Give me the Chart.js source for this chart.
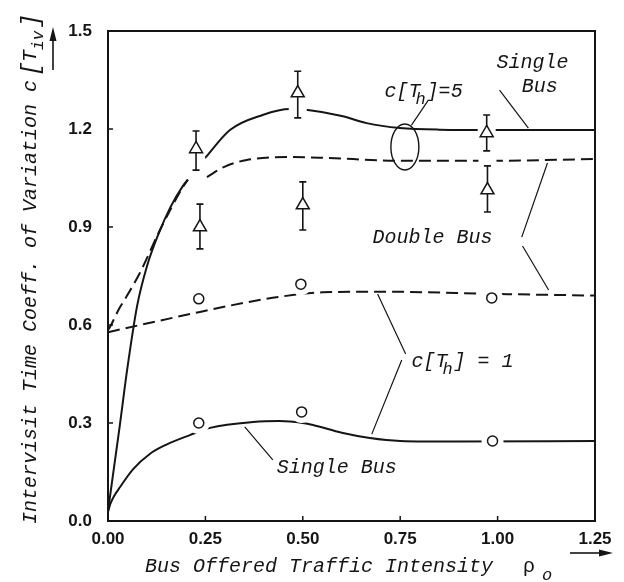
<!DOCTYPE html>
<html><head><meta charset="utf-8">
<script src="https://cdn.jsdelivr.net/npm/chart.js@4/dist/chart.umd.min.js"></script>
<style>html,body{margin:0;padding:0;background:#fff;}canvas{display:block;}</style>
</head><body>
<canvas id="c" width="624" height="582"></canvas>
<script>
// ---- tick values ----
const xTicks = [0, 0.25, 0.5, 0.75, 1.0, 1.25];
const yTicks = [0, 0.3, 0.6, 0.9, 1.2, 1.5];

// ---- analytic curves ----
const single5Rho = [0,0.015,0.03,0.05,0.075,0.1,0.13,0.16,0.192,0.205,0.22,0.249,0.313,0.397,0.467,0.513,0.6,0.664,0.749,0.85,1.0,1.25];
const single5Val = [0.03,0.16,0.29,0.47,0.66,0.78,0.88,0.96,1.025,1.045,null,1.111,1.197,1.243,1.261,1.258,1.24,1.218,1.203,1.198,1.197,1.197];

const double5Rho = [0,0.008,0.018,0.031,0.044,0.082,0.133,0.192,0.205,0.23,0.254,0.3,0.356,0.467,0.55,0.75,1.0,1.25];
const double5Val = [0.585,0.6,0.625,0.655,0.68,0.76,0.89,1.022,1.045,null,1.053,1.085,1.105,1.114,1.112,1.103,1.103,1.108];

const single1Rho = [0,0.006,0.015,0.031,0.064,0.108,0.15,0.21,0.262,0.372,0.44,0.5,0.526,0.6,0.672,0.75,0.9,1.25];
const single1Val = [0.028,0.052,0.075,0.104,0.158,0.206,0.234,0.263,0.285,0.303,0.306,0.3,0.294,0.27,0.254,0.245,0.243,0.245];

const double1Rho = [0,0.12,0.236,0.35,0.45,0.55,0.7,1.0,1.25];
const double1Val = [0.578,0.61,0.64,0.668,0.688,0.7,0.702,0.695,0.69];

// ---- simulation results (c[Th]=1, circles) ----
const simS1Rho = [0.233,0.497,0.987];
const simS1Val = [0.30,0.334,0.245];
const simD1Rho = [0.233,0.495,0.985];
const simD1Val = [0.68,0.725,0.683];

// ---- simulation results (c[Th]=5, triangles with confidence intervals) ----
const simS5Rho = [0.226,0.487,0.972];
const simS5Val = [1.139,1.31,1.188];
const simS5Lo  = [1.074,1.234,1.133];
const simS5Hi  = [1.194,1.377,1.243];
const simD5Rho = [0.236,0.5,0.974];
const simD5Val = [0.90,0.967,1.013];
const simD5Lo  = [0.833,0.891,0.946];
const simD5Hi  = [0.97,1.038,1.087];

const pts = (xs, ys) => xs.map((x, i) => ({x, y: ys[i]}));

const INK = '#151515';
const MONO = '"Liberation Mono", "DejaVu Sans Mono", monospace';

const markerBase = {showLine:false, pointBackgroundColor:'#fff', pointBorderColor:INK, pointBorderWidth:1.5, pointHoverRadius:0};
const curveBase = {pointRadius:0, pointHoverRadius:0, borderColor:INK, borderWidth:2, cubicInterpolationMode:'monotone', spanGaps:false, fill:false};

const datasets = [
  {...markerBase, label:'sim single c5', data:pts(simS5Rho, simS5Val), pointStyle:'triangle', pointRadius:7.5},
  {...markerBase, label:'sim double c5', data:pts(simD5Rho, simD5Val), pointStyle:'triangle', pointRadius:7.5},
  {...markerBase, label:'sim single c1', data:pts(simS1Rho, simS1Val), pointStyle:'circle', pointRadius:5},
  {...markerBase, label:'sim double c1', data:pts(simD1Rho, simD1Val), pointStyle:'circle', pointRadius:5},
  {...curveBase, label:'Single Bus c5', data:pts(single5Rho, single5Val)},
  {...curveBase, label:'Double Bus c5', data:pts(double5Rho, double5Val), borderDash:[12,6]},
  {...curveBase, label:'Single Bus c1', data:pts(single1Rho, single1Val)},
  {...curveBase, label:'Double Bus c1', data:pts(double1Rho, double1Val), borderDash:[12,6]}
];

const barGroups = [
  {rho:simS5Rho, lo:simS5Lo, hi:simS5Hi},
  {rho:simD5Rho, lo:simD5Lo, hi:simD5Hi}
];
const circleGroups = [
  {rho:simS1Rho, val:simS1Val},
  {rho:simD1Rho, val:simD1Val}
];

// annotation placement in data units
const labels = [
  {text:'Single', at:[0.997,1.387]},
  {text:'Bus', at:[1.062,1.313]},
  {text:'Double Bus', at:[0.679,0.851]},
  {text:'Single Bus', at:[0.433,0.147]}
];
const subLabels = [
  {pre:'c[T', sub:'h', post:']=5', at:[0.71,1.298]},
  {pre:'c[T', sub:'h', post:'] = 1', at:[0.779,0.471]}
];
const leaders = [
  [[1.005,1.319],[1.079,1.203]],
  [[0.821,1.286],[0.779,1.212]],
  [[1.062,0.869],[1.128,1.096]],
  [[1.064,0.842],[1.131,0.707]],
  [[0.764,0.511],[0.692,0.695]],
  [[0.754,0.493],[0.677,0.266]],
  [[0.351,0.288],[0.423,0.187]]
];
const ellipseAt = [0.762,1.145];

function drawHalosAndBars(chart){
  const {ctx, scales:{x, y}} = chart;
  ctx.save();
  ctx.fillStyle = '#fff';
  circleGroups.forEach(g => g.rho.forEach((r, i) => {
    ctx.beginPath();
    ctx.arc(x.getPixelForValue(r), y.getPixelForValue(g.val[i]), 11, 0, Math.PI*2);
    ctx.fill();
  }));
  barGroups.forEach(g => g.rho.forEach((r, i) => {
    const px = x.getPixelForValue(r), top = y.getPixelForValue(g.hi[i]), bot = y.getPixelForValue(g.lo[i]);
    ctx.fillStyle = '#fff';
    ctx.fillRect(px-9, top-8, 18, bot-top+12);
  }));
  ctx.strokeStyle = INK; ctx.lineWidth = 1.6;
  barGroups.forEach(g => g.rho.forEach((r, i) => {
    const px = x.getPixelForValue(r), top = y.getPixelForValue(g.hi[i]), bot = y.getPixelForValue(g.lo[i]);
    ctx.beginPath();
    ctx.moveTo(px, top); ctx.lineTo(px, bot);
    ctx.moveTo(px-3.5, top); ctx.lineTo(px+3.5, top);
    ctx.moveTo(px-3.5, bot); ctx.lineTo(px+3.5, bot);
    ctx.stroke();
  }));
  ctx.restore();
}

function drawFrameAndText(chart){
  const {ctx, chartArea:a, scales:{x, y}} = chart;
  const P = (d) => [x.getPixelForValue(d[0]), y.getPixelForValue(d[1])];
  ctx.save();
  // frame
  ctx.strokeStyle = INK; ctx.lineWidth = 2;
  ctx.strokeRect(a.left, a.top, a.right-a.left, a.bottom-a.top);
  // inward ticks
  ctx.lineWidth = 1.5; ctx.beginPath();
  x.ticks.forEach(t => { const px = x.getPixelForValue(t.value); ctx.moveTo(px, a.bottom); ctx.lineTo(px, a.bottom-5); });
  y.ticks.forEach(t => { const py = y.getPixelForValue(t.value); ctx.moveTo(a.left, py); ctx.lineTo(a.left+5, py); });
  ctx.stroke();

  // annotations
  ctx.fillStyle = INK; ctx.textBaseline = 'alphabetic'; ctx.textAlign = 'left';
  ctx.font = 'italic 20px ' + MONO;
  labels.forEach(l => { const [px, py] = P(l.at); ctx.fillText(l.text, px, py); });
  subLabels.forEach(l => {
    const [px, py] = P(l.at);
    ctx.font = 'italic 20px ' + MONO;
    ctx.fillText(l.pre, px, py);
    const w = ctx.measureText(l.pre).width;
    ctx.font = 'italic 17px ' + MONO;
    ctx.fillText(l.sub, px + w - 5, py + 7);
    ctx.font = 'italic 20px ' + MONO;
    ctx.fillText(l.post, px + w + 6, py);
  });
  ctx.lineWidth = 1.2; ctx.beginPath();
  leaders.forEach(([p0, p1]) => { const a0 = P(p0), a1 = P(p1); ctx.moveTo(a0[0], a0[1]); ctx.lineTo(a1[0], a1[1]); });
  ctx.stroke();
  const [ex, ey] = P(ellipseAt);
  ctx.lineWidth = 1.4; ctx.beginPath(); ctx.ellipse(ex, ey, 14, 23, 0, 0, Math.PI*2); ctx.stroke();

  // y title
  ctx.save();
  ctx.translate(36, 524); ctx.rotate(-Math.PI/2);
  ctx.font = 'italic 20px ' + MONO;
  let s = 'Intervisit Time Coeff. of Variation c';
  ctx.fillText(s, 0, 0);
  let w = ctx.measureText(s).width + 4;
  ctx.font = 'italic 24px ' + MONO; ctx.fillText('[', w, 2); w += 14;
  ctx.font = 'italic 20px ' + MONO; ctx.fillText('T', w, 0); w += 12;
  ctx.font = 'italic 16px ' + MONO; ctx.fillText('iv', w, 7); w += 22;
  ctx.font = 'italic 24px ' + MONO; ctx.fillText(']', w, 2);
  ctx.restore();
  // up arrow
  ctx.lineWidth = 1.6; ctx.beginPath(); ctx.moveTo(53, 70); ctx.lineTo(53, 38); ctx.stroke();
  ctx.beginPath(); ctx.moveTo(53, 27); ctx.lineTo(49.5, 41); ctx.lineTo(56.5, 41); ctx.closePath(); ctx.fill();

  // x title
  ctx.font = 'italic 20px ' + MONO;
  ctx.fillText('Bus Offered Traffic Intensity', 145, 572);
  ctx.font = '20px ' + MONO;
  ctx.fillText('\u03C1', 523, 572);
  ctx.font = 'italic 17px ' + MONO;
  ctx.fillText('o', 542, 580);
  // right arrow
  ctx.beginPath(); ctx.moveTo(570, 553); ctx.lineTo(602, 553); ctx.stroke();
  ctx.beginPath(); ctx.moveTo(613, 553); ctx.lineTo(599, 549.5); ctx.lineTo(599, 556.5); ctx.closePath(); ctx.fill();
  ctx.restore();
}

const figurePlugin = {
  id: 'figure',
  afterDatasetDraw(chart, args){ if (args.index === 4) drawHalosAndBars(chart); },
  afterDraw(chart){ drawFrameAndText(chart); }
};

new Chart(document.getElementById('c'), {
  type: 'line',
  data: {datasets},
  options: {
    responsive: false,
    animation: false,
    devicePixelRatio: 1,
    layout: {padding: {top: 31, right: 29, left: 0, bottom: 0}},
    plugins: {legend: {display: false}, tooltip: {enabled: false}},
    scales: {
      x: {
        type: 'linear', min: 0, max: 1.25,
        afterBuildTicks: s => { s.ticks = xTicks.map(v => ({value: v})); },
        afterFit: s => { s.height = 61; },
        grid: {display: false, drawTicks: false},
        border: {display: false},
        ticks: {padding: 8, color: INK, font: {family: '"Liberation Sans", Arial, sans-serif', size: 17, weight: 'bold'},
                maxRotation: 0, autoSkip: false, callback: v => Number(v).toFixed(2)}
      },
      y: {
        type: 'linear', min: 0, max: 1.5,
        afterBuildTicks: s => { s.ticks = yTicks.map(v => ({value: v})); },
        afterFit: s => { s.width = 108; },
        grid: {display: false, drawTicks: false},
        border: {display: false},
        ticks: {padding: 16, color: INK, font: {family: '"Liberation Sans", Arial, sans-serif', size: 17, weight: 'bold'},
                autoSkip: false, callback: v => Number(v).toFixed(1)}
      }
    }
  },
  plugins: [figurePlugin]
});
</script>
</body></html>
